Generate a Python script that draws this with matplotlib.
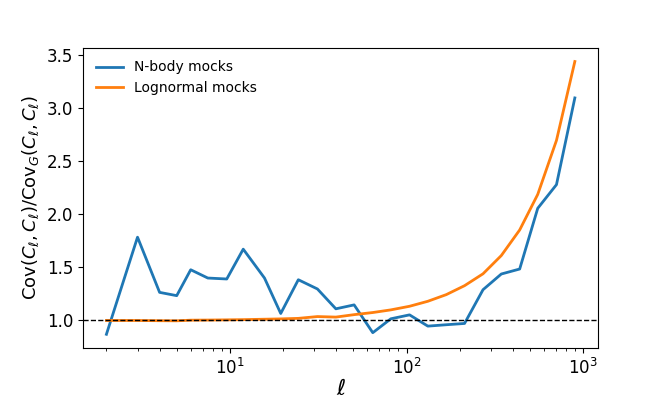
import numpy as np
import matplotlib
matplotlib.use("Agg")
import matplotlib.pyplot as plt

# effective multipoles of the bins
ell = [2, 3, 4, 5, 6, 7.5, 9.6, 11.9, 15.7, 19.4, 24.4, 31.3, 39.8, 50.5,
       64.4, 81.5, 104, 132, 168, 213, 271, 344, 437, 553, 706, 897]

# covariance ratio to the Gaussian prediction
ratio_nbody = [0.87, 1.785, 1.265, 1.234, 1.478, 1.40, 1.391, 1.672, 1.40, 1.066,
               1.384, 1.297, 1.11, 1.147, 0.885, 1.016, 1.053, 0.947, 0.96, 0.972,
               1.29, 1.438, 1.485, 2.057, 2.28, 3.097]
ratio_lognormal = [1.0, 1.0, 0.998, 0.997, 1.003, 1.004, 1.006, 1.008, 1.012, 1.015,
                   1.02, 1.037, 1.032, 1.055, 1.075, 1.10, 1.134, 1.181, 1.244, 1.328,
                   1.44, 1.612, 1.853, 2.188, 2.697, 3.44]

fig = plt.figure(figsize=(6.64, 3.99), dpi=100)
ax = fig.add_axes([0.125, 0.128, 0.776, 0.752])

ax.plot(ell, ratio_nbody, lw=2, label='N-body mocks')
ax.plot(ell, ratio_lognormal, lw=2, label='Lognormal mocks')
ax.axhline(1, color='black', ls='--', lw=1)
ax.set_xscale('log')

ax.set_xlabel(r'$\ell$', fontsize=16, labelpad=1)
ax.set_ylabel(r'Cov$(C_\ell, C_\ell)$/Cov$_G(C_\ell, C_\ell)$', fontsize=13)
ax.tick_params(labelsize=12)
ax.legend(frameon=False, fontsize=10, loc='upper left')

fig.savefig('out.png', dpi=100)
